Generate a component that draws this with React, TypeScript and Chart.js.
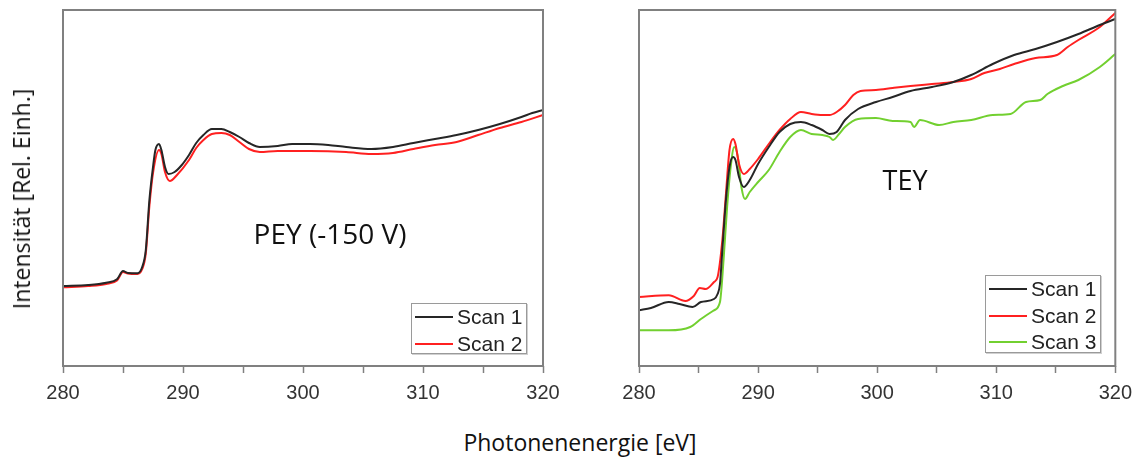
import React, { useEffect, useRef } from "react";
import { Chart, registerables } from "chart.js";

Chart.register(...registerables);

// ---------- DATA ----------
const xTicks = [280, 285, 290, 295, 300, 305, 310, 315, 320];

// PEY (-150 V) panel
const peyScan1E = [280, 282.1, 283.6, 284.5, 285.0, 285.4, 286.2, 286.6, 286.9, 287.2, 287.5, 287.7, 288.0, 288.2, 288.5, 288.8, 289.3, 289.9, 290.5, 291.1, 291.7, 292.4, 293.2, 293.9, 294.7, 295.5, 296.4, 297.9, 299.1, 300.6, 302.1, 303.6, 305.7, 307.5, 309.2, 311.0, 312.8, 314.6, 316.4, 318.2, 319.1, 320];
const peyScan1I = [80, 81, 83.3, 86.7, 95, 93, 92.7, 99, 116, 166, 199, 216, 222, 216, 199, 192, 194, 201, 211, 223, 231, 237, 237, 234, 229, 223, 219, 220, 222, 222, 221, 219, 217, 219, 223, 227, 231, 236, 242, 249, 253, 256];
const peyScan2E = [280, 282.1, 283.6, 284.5, 285.0, 285.4, 286.2, 286.6, 286.9, 287.2, 287.5, 288.0, 288.2, 288.5, 288.9, 289.5, 290.5, 291.1, 291.7, 292.4, 293.2, 293.9, 294.7, 295.5, 296.4, 297.9, 300.6, 303.6, 305.7, 307.5, 309.2, 311.0, 312.8, 314.6, 316.4, 318.2, 320];
const peyScan2I = [78.7, 80, 82, 85.5, 94, 92.5, 92, 97, 112.7, 160, 193, 216, 212, 194, 185, 191, 206, 218, 226, 232, 233, 231, 224, 217, 214, 215, 215, 214, 212, 213, 217, 221, 224, 231, 238, 244, 251];

// TEY panel
const teyScan1E = [280, 281.0, 282.5, 283.4, 284.5, 285.2, 286.3, 286.6, 286.8, 287.0, 287.3, 287.6, 287.9, 288.1, 288.4, 288.8, 289.3, 290.0, 290.9, 291.8, 292.7, 293.6, 294.5, 295.4, 296.0, 296.6, 297.3, 298.4, 299.9, 301.3, 302.8, 304.6, 306.4, 307.9, 309.7, 311.5, 313.3, 315.1, 316.9, 318.7, 320];
const teyScan1I = [55.7, 58, 64, 62, 59, 64, 67, 72, 82, 116, 166, 199, 209, 206, 189, 179, 186, 202, 219, 234, 242, 244, 241, 236, 232, 234, 246, 257, 264, 269, 275, 279, 284, 291, 302, 311, 317, 324, 332, 341, 347];
const teyScan2E = [280, 282.5, 283.9, 284.6, 285.1, 285.6, 286.3, 286.6, 287.0, 287.3, 287.6, 287.9, 288.1, 288.4, 288.8, 289.3, 290.0, 290.9, 291.8, 292.7, 293.6, 294.5, 295.4, 296.0, 296.6, 297.3, 298.0, 298.6, 299.9, 301.3, 302.8, 304.6, 306.4, 307.9, 309.0, 310.3, 311.5, 313.3, 315.1, 316.0, 316.9, 318.7, 320];
const teyScan2I = [69, 70.7, 65, 70, 78, 77, 84, 89, 126, 172, 216, 227, 222, 202, 192, 197, 207, 222, 236, 247, 254, 252, 251, 251, 254, 261, 271, 275, 276, 278, 280, 282, 284, 287, 293, 297, 302, 308, 311, 319, 326, 339, 353];
const teyScan3E = [280, 282.5, 284.3, 285.2, 286.3, 286.8, 287.1, 287.4, 287.7, 288.0, 288.3, 288.6, 288.9, 289.3, 290.0, 290.9, 291.8, 292.7, 293.6, 294.5, 295.4, 296.0, 296.3, 296.8, 297.3, 298.4, 299.9, 301.3, 302.8, 303.1, 303.6, 305.2, 306.4, 307.9, 309.7, 311.2, 312.5, 313.7, 314.3, 315.6, 316.9, 318.7, 320];
const teyScan3I = [35.7, 35.7, 39, 47, 55.7, 64, 106, 159, 199, 219, 209, 179, 167, 174, 184, 196, 214, 229, 236, 232, 231, 229, 226, 232, 239, 247, 248, 245, 244, 239, 246, 241, 244, 246, 251, 252, 264, 266, 272, 280, 286, 299, 312];

const scanLabels = ["Scan 1", "Scan 2", "Scan 3"];
const scanColors = ["#262626", "#ff2020", "#72d030"];

const zip = (xs: number[], ys: number[]) => xs.map((x, i) => ({ x, y: ys[i] }));

const framePlugin = {
  id: "frame",
  afterDraw(chart: any) {
    const { ctx, chartArea } = chart;
    ctx.save();
    ctx.strokeStyle = "#808080";
    ctx.lineWidth = 2;
    ctx.strokeRect(chartArea.left, chartArea.top, chartArea.right - chartArea.left, chartArea.bottom - chartArea.top);
    ctx.restore();
  },
};

function makeConfig(datasets: any[], padLeft: number, padRight: number) {
  return {
    type: "line" as const,
    data: { datasets },
    options: {
      responsive: false,
      animation: false,
      layout: { padding: { left: padLeft, right: padRight, top: 10, bottom: 14 } },
      plugins: { legend: { display: false }, tooltip: { enabled: false } },
      elements: { point: { radius: 0 }, line: { borderWidth: 2, cubicInterpolationMode: "monotone" } },
      scales: {
        x: {
          type: "linear",
          min: 280,
          max: 320,
          afterBuildTicks: (scale: any) => {
            scale.ticks = xTicks.map((v) => ({ value: v }));
          },
          afterFit: (scale: any) => {
            scale.height = 40;
          },
          border: { display: false },
          grid: { drawOnChartArea: false, drawTicks: true, tickLength: 7, color: "#808080", tickWidth: 1.5 },
          ticks: {
            autoSkip: false,
            maxRotation: 0,
            padding: 8,
            color: "#333333",
            font: { family: "'Liberation Sans', Arial, sans-serif", size: 20 },
            callback: (v: any) => (Number(v) % 10 === 0 ? String(v) : ""),
          },
        },
        y: { type: "linear", min: 0, max: 356, display: false },
      },
    },
    plugins: [framePlugin],
  };
}

function ChartCanvas({ datasets, padLeft, padRight, left }: any) {
  const ref = useRef<HTMLCanvasElement>(null);
  useEffect(() => {
    if (!ref.current) return;
    const chart = new Chart(ref.current, makeConfig(datasets, padLeft, padRight) as any);
    return () => chart.destroy();
  }, []);
  return <canvas ref={ref} width={570} height={420} style={{ position: "absolute", left, top: 0, width: 570, height: 420 }} />;
}

function Legend({ count, left, top, width, height }: any) {
  return (
    <div
      style={{
        position: "absolute",
        left,
        top,
        width,
        height,
        boxSizing: "border-box",
        border: "1px solid #9a9a9a",
        boxShadow: "1px 1px 0 #d0d0d0",
        background: "#fff",
      }}
    >
      {scanLabels.slice(0, count).map((lab, i) => (
        <div key={lab} style={{ position: "absolute", left: 0, top: 13 + i * 26.5, width: "100%", height: 0 }}>
          <div style={{ position: "absolute", left: 3, top: -1, width: 38, height: 2, background: scanColors[i] }} />
          <div
            style={{
              position: "absolute",
              left: 45,
              top: -12,
              lineHeight: "24px",
              fontFamily: "'Liberation Sans', Arial, sans-serif",
              fontSize: 21,
              color: "#222",
              whiteSpace: "nowrap",
            }}
          >
            {lab}
          </div>
        </div>
      ))}
    </div>
  );
}

export default function App() {
  const peyDatasets = [
    { label: scanLabels[0], data: zip(peyScan1E, peyScan1I), borderColor: scanColors[0] },
    { label: scanLabels[1], data: zip(peyScan2E, peyScan2I), borderColor: scanColors[1] },
  ];
  const teyDatasets = [
    { label: scanLabels[0], data: zip(teyScan1E, teyScan1I), borderColor: scanColors[0] },
    { label: scanLabels[1], data: zip(teyScan2E, teyScan2I), borderColor: scanColors[1] },
    { label: scanLabels[2], data: zip(teyScan3E, teyScan3I), borderColor: scanColors[2] },
  ];
  const textFont = "'Open Sans', 'Noto Sans', sans-serif";
  return (
    <div style={{ position: "fixed", left: 0, top: 0, width: 1140, height: 462, background: "#fff", overflow: "hidden" }}>
      <ChartCanvas datasets={peyDatasets} padLeft={63} padRight={27} left={0} />
      <ChartCanvas datasets={teyDatasets} padLeft={69} padRight={23} left={570} />
      <Legend count={2} left={411} top={303} width={116} height={51} />
      <Legend count={3} left={985} top={275} width={116} height={78} />
      <div
        style={{
          position: "absolute",
          left: 21,
          top: 199,
          transform: "translate(-50%, -50%) rotate(-90deg)",
          fontFamily: textFont,
          fontSize: 23,
          color: "#111",
          whiteSpace: "nowrap",
        }}
      >
        Intensität [Rel. Einh.]
      </div>
      <div
        style={{
          position: "absolute",
          left: 580,
          top: 442,
          transform: "translate(-50%, -50%)",
          fontFamily: textFont,
          fontSize: 23,
          color: "#111",
          whiteSpace: "nowrap",
        }}
      >
        Photonenenergie [eV]
      </div>
      <div
        style={{
          position: "absolute",
          left: 330,
          top: 233,
          transform: "translate(-50%, -50%)",
          fontFamily: textFont,
          fontSize: 28,
          color: "#111",
          whiteSpace: "nowrap",
        }}
      >
        PEY (-150 V)
      </div>
      <div
        style={{
          position: "absolute",
          left: 905,
          top: 179,
          transform: "translate(-50%, -50%)",
          fontFamily: textFont,
          fontSize: 27,
          color: "#111",
          whiteSpace: "nowrap",
        }}
      >
        TEY
      </div>
    </div>
  );
}
